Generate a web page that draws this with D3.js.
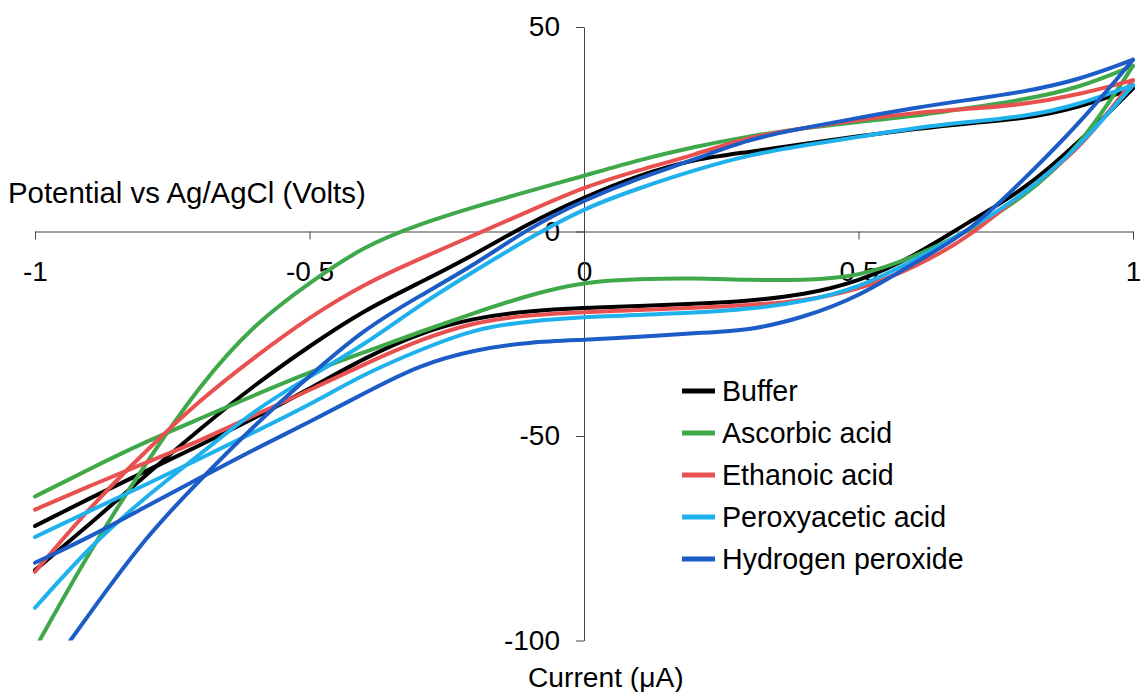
<!DOCTYPE html>
<html>
<head>
<meta charset="utf-8">
<script src="https://cdn.jsdelivr.net/npm/d3@7"></script>
<style>
  body { margin: 0; background: #fff; }
  text { font-family: "Liberation Sans", Arial, sans-serif; fill: #000; }
</style>
</head>
<body>
<div id="chart"></div>
<script>
const potentials = [-1, -0.9, -0.8, -0.7, -0.6, -0.5, -0.4, -0.3, -0.2, -0.1, 0,
                    0.1, 0.2, 0.3, 0.4, 0.5, 0.6, 0.7, 0.8, 0.9, 1];

// forward (upper) and reverse (lower) branch currents, µA
const bufferFwd   = [-82.8, -71.5, -59.8, -48.3, -37.5, -28, -19.2, -12.6, -5.7, 2.1, 8.4, 13.8, 17.7, 19.4, 21.4, 23.3, 25, 26.5, 27.5, 30.2, 35];
const bufferRev   = [-72, -65.2, -58.7, -52.3, -45.6, -38.5, -30.9, -24.8, -21.1, -19.4, -18.7, -18.2, -17.7, -17, -15.5, -12.3, -6.2, 2.3, 10, 21.6, 35];
const ascorbicFwd = [-102, -78, -57, -37.5, -22.5, -12.5, -3.5, 1.8, 6, 9.9, 13.6, 17.5, 20.7, 23.3, 25.3, 26.8, 28.2, 30.2, 32.2, 35, 40.5];
const ascorbicRev = [-64.8, -58, -51.5, -45.8, -40, -34.4, -29.5, -24.6, -19.9, -15.5, -12.3, -11.6, -11.4, -11.9, -11.9, -11.1, -6.3, 0, 8.2, 20, 40.5];
const ethanoicFwd = [-83.2, -67.4, -53.9, -41.2, -30.7, -20.9, -12.8, -6.7, -0.9, 5, 10.9, 15, 18.7, 23.1, 25.3, 27.3, 29, 30, 31, 33.4, 37];
const ethanoicRev = [-68, -62.2, -56.6, -51.2, -44.9, -38.8, -32.4, -26.5, -22.1, -20.4, -19.7, -19.2, -18.7, -18, -17, -14.3, -8.9, -1.6, 9.7, 19.4, 37];
const peroxyFwd   = [-92, -77, -65, -54.6, -43.6, -35.5, -27.7, -18, -9.7, -1.6, 5.7, 10.6, 15, 18.7, 21.1, 23.1, 25.3, 26.8, 28, 30.9, 35.8];
const peroxyRev   = [-74.7, -68.3, -62, -55.6, -49, -42.4, -34.8, -29, -23.8, -21.9, -20.9, -20.4, -19.9, -19, -17.2, -13.8, -7.2, 0.4, 8.9, 20.4, 35.8];
const hydrogenFwd = [-112, -93.3, -74.9, -60.8, -47.3, -35.3, -23.8, -15.8, -8.2, 0.9, 7.7, 13.1, 17.5, 22.6, 25.3, 27.8, 30.2, 32.2, 34.1, 37, 42];
const hydrogenRev = [-81, -74.7, -67.4, -60.3, -53.2, -46.6, -39.5, -32.6, -28.9, -27, -26.5, -25.8, -24.8, -24.3, -21, -16, -7.7, -0.4, 12.6, 26, 42];

const seriesNames  = ["Buffer", "Ascorbic acid", "Ethanoic acid", "Peroxyacetic acid", "Hydrogen peroxide"];
const seriesColors = ["#000000", "#3fa84a", "#e8514f", "#1fb1ec", "#1b5cc6"];
const seriesData = [
  [bufferFwd, bufferRev],
  [ascorbicFwd, ascorbicRev],
  [ethanoicFwd, ethanoicRev],
  [peroxyFwd, peroxyRev],
  [hydrogenFwd, hydrogenRev]
];

const xTicks = [-1, -0.5, 0, 0.5, 1];
const yTicks = [50, 0, -50, -100];

const width = 1141, height = 692;

const svg = d3.select("#chart")
  .append("svg")
  .attr("width", width)
  .attr("height", height);

const x = d3.scaleLinear().domain([-1, 1]).range([35, 1133]);
const y = d3.scaleLinear().domain([-100, 50]).range([640.5, 27]);

svg.append("defs").append("clipPath")
  .attr("id", "plot-clip")
  .append("rect")
  .attr("x", 28)
  .attr("y", y(50))
  .attr("width", 1113)
  .attr("height", y(-100) - y(50));

// X axis sits on zero current
const xAxis = svg.append("g")
  .attr("transform", `translate(0, ${y(0)})`)
  .call(d3.axisBottom(x)
    .tickValues(xTicks)
    .tickSize(8)
    .tickSizeOuter(0)
    .tickPadding(22)
    .tickFormat((d) => String(d)));

// Y axis sits on zero potential
const yAxis = svg.append("g")
  .attr("transform", `translate(${x(0)}, 0)`)
  .call(d3.axisLeft(y)
    .tickValues(yTicks)
    .tickSize(8)
    .tickSizeOuter(0)
    .tickPadding(16)
    .tickFormat((d) => String(d)));

[xAxis, yAxis].forEach((g) => {
  g.selectAll("path, line").attr("stroke", "#444").attr("stroke-width", 1);
  g.selectAll("text")
    .style("font-family", '"Liberation Sans", Arial, sans-serif')
    .style("font-size", "28px")
    .attr("fill", "#000");
});

// axis titles (as in the original figure)
svg.append("text")
  .attr("x", 8)
  .attr("y", 203)
  .style("font-size", "29.4px")
  .text("Potential vs Ag/AgCl (Volts)");

svg.append("text")
  .attr("x", 528)
  .attr("y", 687)
  .style("font-size", "28.2px")
  .text("Current (\u03bcA)");

// CV loops: forward branch and reverse branch
const line = d3.line()
  .x((d) => x(d[0]))
  .y((d) => y(d[1]))
  .curve(d3.curveBasis);

const curves = svg.append("g").attr("clip-path", "url(#plot-clip)");

seriesData.forEach((branches, i) => {
  branches.forEach((vals) => {
    curves.append("path")
      .datum(potentials.map((p, j) => [p, vals[j]]))
      .attr("d", line)
      .attr("fill", "none")
      .attr("stroke", seriesColors[i])
      .attr("stroke-width", 4)
      .attr("stroke-linejoin", "round")
      .attr("stroke-linecap", "round");
  });
});

// Legend
const legend = svg.append("g").attr("transform", "translate(682, 391)");
seriesNames.forEach((name, i) => {
  const row = legend.append("g").attr("transform", `translate(0, ${i * 42})`);
  row.append("line")
    .attr("x1", 0)
    .attr("x2", 33)
    .attr("y1", 0)
    .attr("y2", 0)
    .attr("stroke", seriesColors[i])
    .attr("stroke-width", 5);
  row.append("text")
    .attr("x", 40)
    .attr("y", 0)
    .attr("dy", "0.35em")
    .style("font-size", "28.6px")
    .text(name);
});
</script>
</body>
</html>
